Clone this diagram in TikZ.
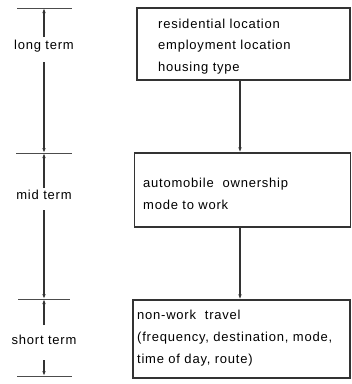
\documentclass[tikz,border=0pt]{standalone}
\usepackage{fontspec}
\setmainfont{Liberation Sans}[LetterSpace=6]
\usetikzlibrary{arrows.meta}
\begin{document}
\begin{tikzpicture}[x=1pt,y=-1pt,
  ln/.style={draw=black!80, line width=1.1pt},
  box/.style={ln, rectangle, inner sep=0pt},
  txt/.style={anchor=west, align=left, inner sep=0pt, text=black,
    font=\fontsize{13}{21.8}\selectfont},
  lbl/.style={inner sep=0pt, text=black, font=\fontsize{13}{15}\selectfont},
  arr/.style={ln, -{Latex[length=5pt,width=3.5pt]}},
  tick/.style={draw=black!70, line width=1pt}]
\useasboundingbox (0,0) rectangle (352,384);
% boxes
\node[box, minimum width=213pt, minimum height=72pt] (b1) at (243.5,44) {};
\node[box, minimum width=216pt, minimum height=74pt] (b2) at (242.5,190) {};
\node[box, minimum width=217pt, minimum height=78pt] (b3) at (241.5,339) {};
\node[txt] (t1) at (158,46.5) {residential location\\employment location\\housing type};
\node[txt] (t2) at (143,193.5) {automobile\ \ ownership\\mode to work};
\node[txt] (t3) at (137,338) {non-work\ \ travel\\(frequency, destination, mode,\\time of day, route)};
\coordinate (cx) at (240,0);
\draw[arr] (b1.south -| cx) -- (b2.north -| cx);
\draw[arr] (b2.south -| cx) -- (b3.north -| cx);
% left scale
\coordinate (k1) at (44,8);
\coordinate (k2) at (44,153);
\coordinate (k3) at (44,299);
\coordinate (k4) at (44,376);
\draw[tick] (17,8) -- (72,8);
\draw[tick] (16,153) -- (72,153);
\draw[tick] (18,299) -- (70,299);
\draw[tick] (17,376) -- (72,376);
\node[lbl] (L1) at (44,46) {long term};
\node[lbl] (L2) at (44,195) {mid term};
\node[lbl] (L3) at (44,340) {short term};
\coordinate (a1) at (44,37);
\coordinate (a2) at (44,62);
\coordinate (a3) at (44,188);
\coordinate (a4) at (44,210);
\coordinate (a5) at (44,325);
\coordinate (a6) at (44,360);
\draw[arr] (a1) -- (k1);
\draw[arr] (a2) -- (k2);
\draw[arr] (a3) -- (k2);
\draw[arr] (a4) -- (k3);
\draw[arr] (a5) -- (k3);
\draw[arr] (a6) -- (k4);
\end{tikzpicture}
\end{document}
